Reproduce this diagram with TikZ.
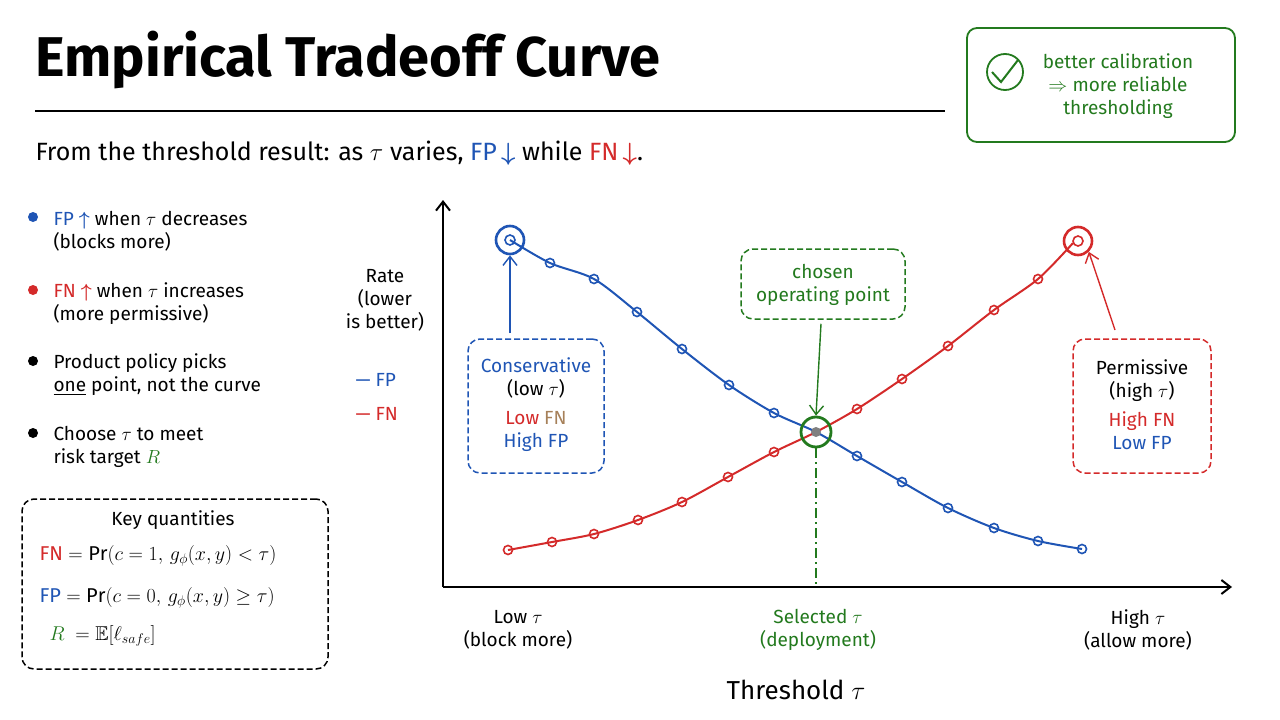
\RequirePackage{fix-cm}
\documentclass[tikz,border=0pt]{standalone}
\usepackage{amsmath,amssymb}
\usepackage{fontspec}
\setmainfont{Fira Sans}
\usetikzlibrary{arrows.meta}
\definecolor{cb}{HTML}{1F55B5}
\definecolor{cr}{HTML}{D42A2A}
\definecolor{cg}{HTML}{237A1E}
\begin{document}
\begin{tikzpicture}[x=1pt,y=-1pt,
  txt/.style={font=\fontsize{19}{23}\selectfont,align=left,anchor=west},
  ctr/.style={font=\fontsize{19}{23}\selectfont,align=center},
  mth/.style={font=\fontsize{20}{24}\selectfont,anchor=west},
  dbox/.style={draw,dash pattern=on 6pt off 3pt,rounded corners=12pt,line width=1.5pt},
  ptb/.style={draw=cb,line width=1.6pt,circle,inner sep=0pt,minimum size=9pt},
  ptr/.style={draw=cr,line width=1.6pt,circle,inner sep=0pt,minimum size=9pt},
  arr/.style={-{Straight Barb[length=9pt,width=14pt]},line width=1.4pt}]
\useasboundingbox (0,0) rectangle (1280,720);
\fill[white] (0,0) rectangle (1280,720);
\node[anchor=west,font=\fontsize{56}{62}\selectfont\bfseries] (title) at (32,60) {Empirical Tradeoff Curve};
\draw[line width=2.5pt] (35,111) -- (945,111);
\node[txt,font=\fontsize{25}{30}\selectfont] (sub) at (32,153) {From the threshold result: as $\tau$ varies, \textcolor{cb}{FP\,$\boldsymbol\downarrow$} while \textcolor{cr}{FN\,$\boldsymbol\downarrow$}.};
\node[draw=cg,line width=1.8pt,rounded corners=10pt,minimum width=268pt,minimum height=114pt] (cal) at (1101,85) {};
\node[ctr,text=cg] (calt) at (1118,86) {better calibration\\$\Rightarrow$ more reliable\\thresholding};
\node[draw=cg,line width=1.8pt,circle,minimum size=36pt] (chk) at (1005,72) {};
\draw[cg,line width=2pt] (992,72) -- (1001,82) -- (1018,60);
% bullets
\foreach \y/\c in {217/cb,290/cr,361/black,433/black} \fill[\c] (33,\y) circle (5pt);
\node[txt] (b1) at (50,231) {\textcolor{cb}{FP $\boldsymbol\uparrow$} when $\tau$ decreases\\(blocks more)};
\node[txt] (b2) at (50,304) {\textcolor{cr}{FN $\boldsymbol\uparrow$} when $\tau$ increases\\(more permissive)};
\node[txt] (b3) at (50,375) {Product policy picks\\\underline{one} point, not the curve};
\node[txt] (b4) at (50,447) {Choose $\tau$ to meet\\risk target \textcolor{cg}{$R$}};
\node[dbox,minimum width=306pt,minimum height=170pt] (kq) at (175,584) {};
\node[ctr] (kqt) at (173,520) {Key quantities};
\node[mth] (f1) at (36,556) {\textcolor{cr}{FN} $=\mathrm{Pr}(c=1,\,g_\phi(x,y)<\tau)$};
\node[mth] (f2) at (36,598) {\textcolor{cb}{FP} $=\mathrm{Pr}(c=0,\,g_\phi(x,y)\geq\tau)$};
\node[mth] (f3) at (46,636) {\textcolor{cg}{$R$} $\;=\mathbb{E}[\ell_{safe}]$};
% axes
\coordinate (o) at (443,587);
\coordinate (yt) at (443,200);
\coordinate (xt) at (1232,587);
\draw[arr,line width=2pt] (o) -- (yt);
\draw[arr,line width=2pt] (o) -- (xt);
\node[ctr] (rate) at (385,300) {Rate\\(lower\\is better)};
\node[txt,text=cb] (lfp) at (352,380) {— FP};
\node[txt,text=cr] (lfn) at (352,414) {— FN};
\node[ctr] (xl1) at (518,630) {Low $\tau$\\(block more)};
\node[ctr] (xl2) at (818,630) {\textcolor{cg}{Selected $\tau$}\\\textcolor{cg}{(deployment)}};
\node[ctr] (xl3) at (1138,630) {High $\tau$\\(allow more)};
\node[ctr,font=\fontsize{26}{30}\selectfont] (xlab) at (796,690) {Threshold $\tau$};
% curves
\draw[cr,line width=2pt] plot[smooth,tension=0.5] coordinates {(508,550)(552,542)(594,534)(638,520)(682,502)(728,477)(774,452)(816,432)(857,409)(902,379)(948,346)(994,310)(1038,279)(1073,243)};
\draw[cb,line width=2pt] plot[smooth,tension=0.5] coordinates {(510,240)(550,263)(594,279)(637,312)(682,349)(729,385)(774,413)(816,432)(857,456)(902,482)(948,508)(994,528)(1038,541)(1082,549)};
\foreach \p [count=\i] in {(550,263),(594,279),(637,312),(682,349),(729,385),(774,413),(857,456),(902,482),(948,508),(994,528),(1038,541),(1082,549)} \node[ptb] (pb\i) at \p {};
\foreach \p [count=\i] in {(508,550),(552,542),(594,534),(638,520),(682,502),(728,477),(774,452),(857,409),(902,379),(948,346),(994,310),(1038,279)} \node[ptr] (pr\i) at \p {};
\node[draw=cb,line width=2.6pt,circle,minimum size=28pt,inner sep=0pt] (cons) at (510,240) {};
\draw[cb,line width=1.6pt] (510,240) circle (5pt);
\node[draw=cr,line width=2.6pt,circle,minimum size=28pt,inner sep=0pt] (perm) at (1078,241) {};
\draw[cr,line width=1.6pt] (1078,241) circle (5pt);
\node[draw=cg,line width=2.8pt,circle,minimum size=30pt,inner sep=0pt] (sel) at (816,432) {};
\fill[gray] (816,432) circle (5pt);
\draw[cg,line width=2pt,dash pattern=on 10pt off 4pt on 2pt off 4pt] (sel.south) -- (816,587);
% callouts
\node[dbox,draw=cb,minimum width=136pt,minimum height=134pt] (cb1) at (536,406) {};
\node[ctr] (cbt) at (536,405) {\textcolor{cb}{Conservative}\\(low $\tau$)\\[6pt]\textcolor{cr}{Low} \textcolor{brown!60!gray}{FN}\\\textcolor{cb}{High FP}};
\draw[arr,cb] (510,333) -- (cons.south);
\node[dbox,draw=cr,minimum width=138pt,minimum height=134pt] (cr1) at (1142,406) {};
\node[ctr] (crt) at (1142,405) {Permissive\\(high $\tau$)\\[6pt]\textcolor{cr}{High FN}\\\textcolor{cb}{Low FP}};
\draw[arr,cr] (1115,330) -- (perm.south east);
\node[dbox,draw=cg,minimum width=164pt,minimum height=70pt] (op) at (823,284) {};
\node[ctr,text=cg] (opt) at (823,285) {chosen\\operating point};
\draw[arr,cg] (op.south) ++(-2,4) -- (sel.north);
\end{tikzpicture}
\end{document}
